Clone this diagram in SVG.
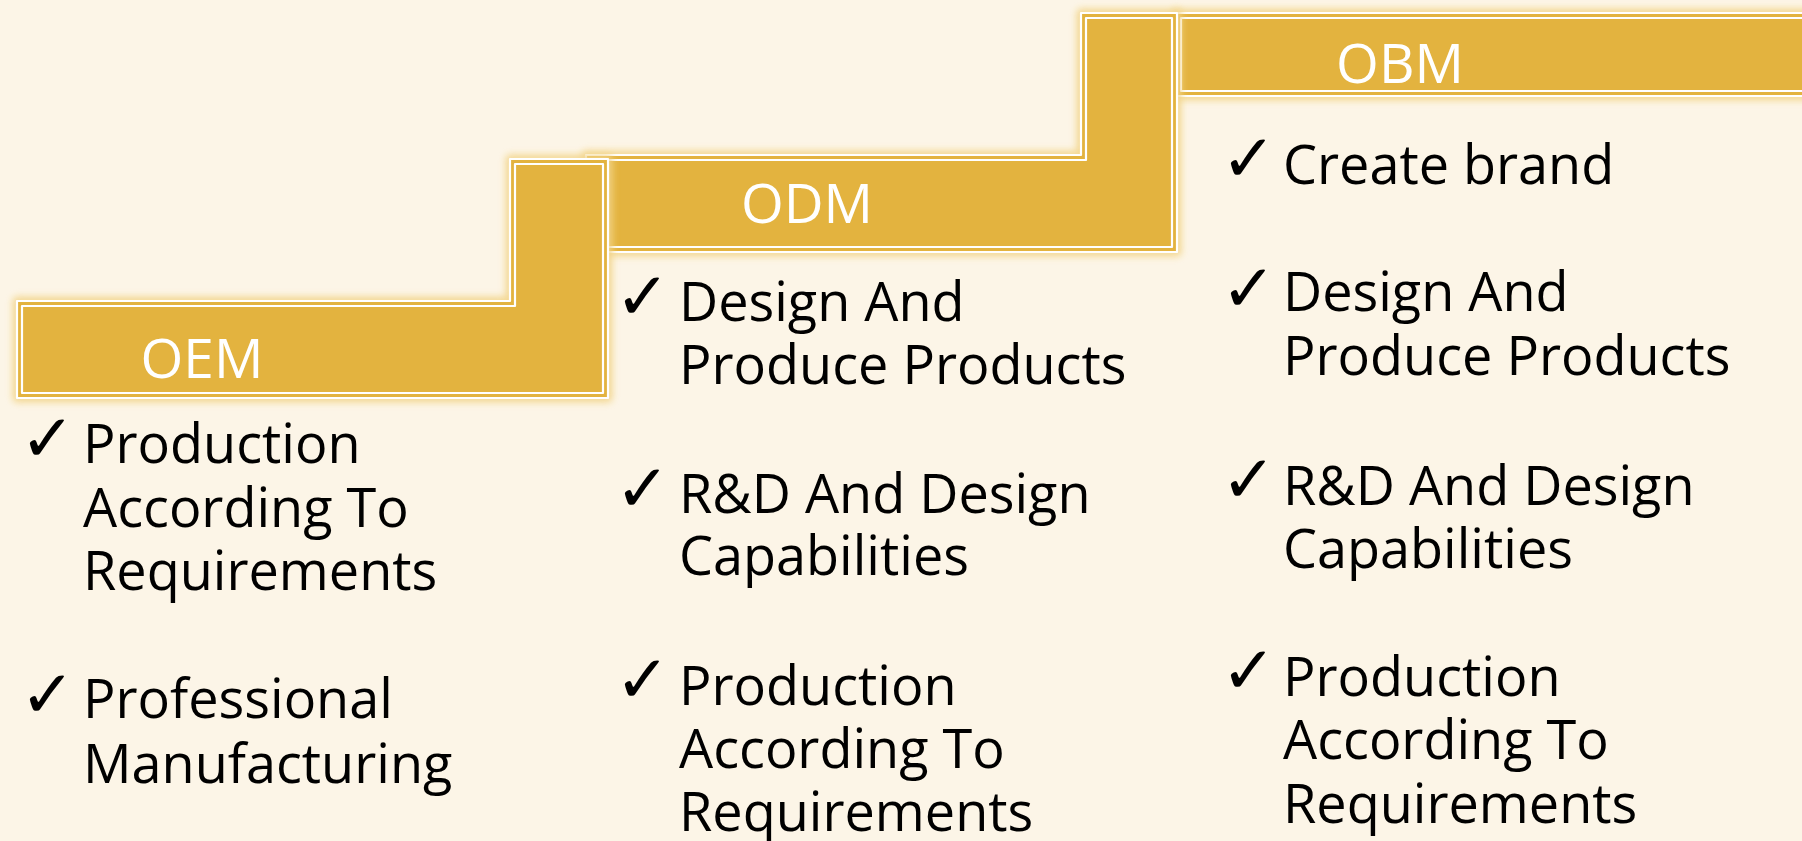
<svg xmlns="http://www.w3.org/2000/svg" width="1802" height="841" viewBox="0 0 1802 841">
<defs>
<filter id="glow" x="-20%" y="-20%" width="140%" height="140%"><feGaussianBlur stdDeviation="3.5"/></filter>
<style>
.halo{fill:#F3D58A;stroke:#F3D58A;stroke-width:9;stroke-linejoin:round;filter:url(#glow);opacity:0.9}
.body{fill:#E3B33F}
.wl{fill:none;stroke:#FFFFFF;stroke-width:2.2;stroke-linejoin:round}
.lbl{font-family:"Open Sans","Noto Sans",sans-serif;font-size:55px;fill:#FFFFFF;text-anchor:middle}
.item{font-family:"Open Sans","Noto Sans",sans-serif;font-size:54px;fill:#000000}
.chk{font-family:"DejaVu Sans",sans-serif;font-size:66px;font-weight:bold;fill:#000000}
</style>
</defs>
<rect width="1802" height="841" fill="#FCF5E7"/>

<g id="obm">
<path class="halo" d="M1176,13 H1830 V96 H1176 Z"/>
<path class="body" d="M1176,13 H1830 V96 H1176 Z"/>
<path class="wl" d="M1176,13 H1830 V96 H1176 Z"/>
<path class="wl" d="M1181,18 H1830 V91 H1181 Z"/>
<text class="lbl" x="1400" y="83">OBM</text>
</g>

<g id="odm">
<path class="halo" d="M586,155 H1081 V13 H1177 V252 H586 Z"/>
<path class="body" d="M586,155 H1081 V13 H1177 V252 H586 Z"/>
<path class="wl" d="M586,155 H1081 V13 H1177 V252 H586 Z"/>
<path class="wl" d="M591,160 H1086 V18 H1172 V247 H591 Z"/>
<text class="lbl" x="807" y="223">ODM</text>
</g>

<g id="oem">
<path class="halo" d="M17,301 H510 V159 H608 V398 H17 Z"/>
<path class="body" d="M17,301 H510 V159 H608 V398 H17 Z"/>
<path class="wl" d="M17,301 H510 V159 H608 V398 H17 Z"/>
<path class="wl" d="M22,306 H515 V164 H603 V393 H22 Z"/>
<text class="lbl" x="202" y="378">OEM</text>
</g>

<g id="oem-list">
<text class="chk" x="20" y="461">✓</text>
<text class="item" x="83" y="463">Production</text>
<text class="item" x="83" y="526.5">According To</text>
<text class="item" x="83" y="590">Requirements</text>
<text class="chk" x="20" y="717">✓</text>
<text class="item" x="83" y="718">Professional</text>
<text class="item" x="83" y="783">Manufacturing</text>
</g>

<g id="odm-list">
<text class="chk" x="615" y="319">✓</text>
<text class="item" x="679" y="321">Design And</text>
<text class="item" x="679" y="384">Produce Products</text>
<text class="chk" x="615" y="511">✓</text>
<text class="item" x="679" y="513">R&amp;D And Design</text>
<text class="item" x="679" y="575">Capabilities</text>
<text class="chk" x="615" y="702">✓</text>
<text class="item" x="679" y="705">Production</text>
<text class="item" x="679" y="768">According To</text>
<text class="item" x="679" y="831">Requirements</text>
</g>

<g id="obm-list">
<text class="chk" x="1221" y="181">✓</text>
<text class="item" x="1283" y="184">Create brand</text>
<text class="chk" x="1221" y="311">✓</text>
<text class="item" x="1283" y="311">Design And</text>
<text class="item" x="1283" y="374.5">Produce Products</text>
<text class="chk" x="1221" y="502">✓</text>
<text class="item" x="1283" y="504.5">R&amp;D And Design</text>
<text class="item" x="1283" y="568">Capabilities</text>
<text class="chk" x="1221" y="693">✓</text>
<text class="item" x="1283" y="695.5">Production</text>
<text class="item" x="1283" y="759">According To</text>
<text class="item" x="1283" y="823">Requirements</text>
</g>

<g id="connectors"></g>
</svg>
